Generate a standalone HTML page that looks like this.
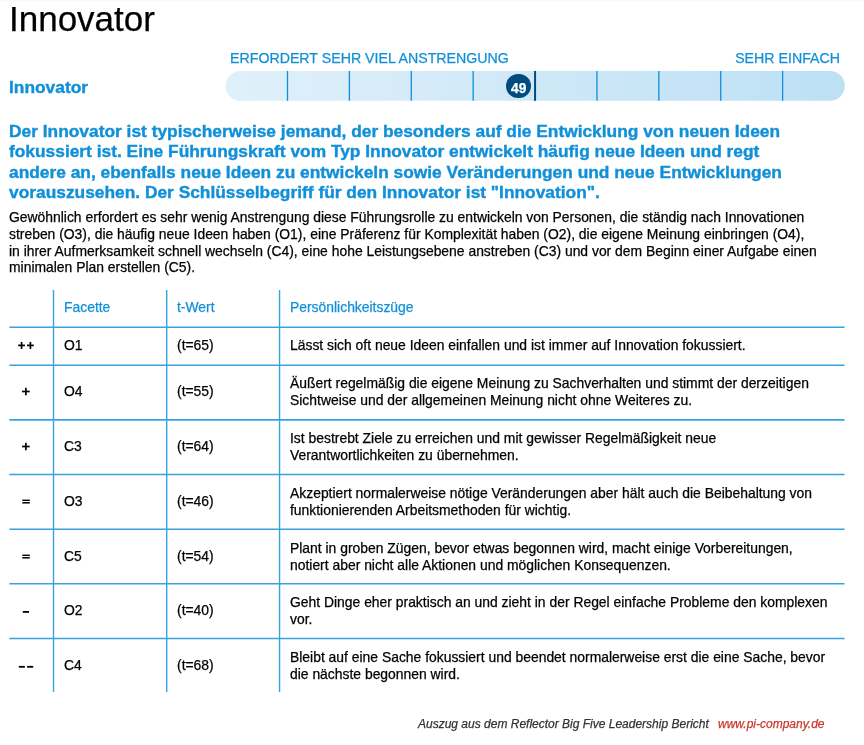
<!DOCTYPE html>
<html><head><meta charset="utf-8">
<style>
html,body{margin:0;padding:0;background:#fff;}
body{width:864px;height:745px;position:relative;overflow:hidden;font-family:"Liberation Sans",sans-serif;color:#000;}
#wrap{will-change:transform;-webkit-text-stroke:0.25px currentColor;position:absolute;left:0;top:0;width:864px;height:745px;}
.topline{position:absolute;left:0;top:0;width:864px;height:1px;background:#f8f8f8;border-bottom:1px solid #fcfcfc;}
.abs{position:absolute;white-space:nowrap;}
#title{left:9px;top:-1.2px;font-size:35px;line-height:40px;}
.scale{color:#1190d8;font-size:14.2px;line-height:16px;top:50px;}
#lbl{-webkit-text-stroke:0.4px currentColor;left:9px;top:76.6px;font-size:17.35px;font-weight:bold;color:#1190d8;line-height:20px;}
#bar{position:absolute;left:226px;top:71px;width:619px;height:30px;border-radius:15px;background:linear-gradient(to right,#e3f1fb,#c0dff5);overflow:hidden;}
.div{position:absolute;top:0;width:1.5px;height:30px;background:#1a90d9;}
#badge{position:absolute;left:506.3px;top:73.6px;width:24.8px;height:24.8px;border-radius:50%;background:#014c7e;color:#fff;font-weight:bold;font-size:13.8px;line-height:29px;text-align:center;}
#intro{-webkit-text-stroke:0.4px currentColor;position:absolute;left:9px;top:121px;width:850px;font-size:17.35px;font-weight:bold;color:#1190d8;line-height:20.3px;}
#body{position:absolute;left:9px;top:209px;width:850px;font-size:13.9px;line-height:16.8px;}
.hl{position:absolute;left:9px;width:836px;height:1.5px;background:#3ba4e2;}
.vl{position:absolute;top:290px;width:1.5px;height:402px;background:#3ba4e2;}
.cell{position:absolute;font-size:13.9px;line-height:16.6px;white-space:nowrap;}
.hd{color:#1190d8;}
.dash{position:absolute;height:2px;background:#111;}
#foot{left:418px;top:717px;font-size:12px;font-style:italic;color:#333;}
#url{left:718px;top:717px;font-size:12px;font-style:italic;color:#c8382c;}
</style></head>
<body><div id="wrap">
<div class="topline"></div>
<div id="title" class="abs">Innovator</div>
<div class="abs scale" style="left:230px;">ERFORDERT SEHR VIEL ANSTRENGUNG</div>
<div class="abs scale" style="right:24px;">SEHR EINFACH</div>
<div id="lbl" class="abs">Innovator</div>
<svg style="position:absolute;left:0;top:0" width="864" height="110">
<defs><linearGradient id="bg" x1="0" x2="1" y1="0" y2="0"><stop offset="0" stop-color="#e0f0fa"/><stop offset="1" stop-color="#bde0f5"/></linearGradient></defs>
<rect x="225.7" y="70.9" width="619.1" height="29.9" rx="14.95" ry="14.95" fill="url(#bg)"/>
<line x1="287.50" y1="70.9" x2="287.50" y2="100.8" stroke="#0e90d8" stroke-width="1.3"/>
<line x1="349.39" y1="70.9" x2="349.39" y2="100.8" stroke="#0e90d8" stroke-width="1.3"/>
<line x1="411.28" y1="70.9" x2="411.28" y2="100.8" stroke="#0e90d8" stroke-width="1.3"/>
<line x1="473.17" y1="70.9" x2="473.17" y2="100.8" stroke="#0e90d8" stroke-width="1.3"/>
<line x1="596.95" y1="70.9" x2="596.95" y2="100.8" stroke="#0e90d8" stroke-width="1.3"/>
<line x1="658.84" y1="70.9" x2="658.84" y2="100.8" stroke="#0e90d8" stroke-width="1.3"/>
<line x1="720.73" y1="70.9" x2="720.73" y2="100.8" stroke="#0e90d8" stroke-width="1.3"/>
<line x1="782.62" y1="70.9" x2="782.62" y2="100.8" stroke="#0e90d8" stroke-width="1.3"/>
<line x1="535.06" y1="70.9" x2="535.06" y2="100.8" stroke="#014c7e" stroke-width="2"/>
</svg>
<div id="badge">49</div>
<div id="intro">Der Innovator ist typischerweise jemand, der besonders auf die Entwicklung von neuen Ideen<br>fokussiert ist. Eine Führungskraft vom Typ Innovator entwickelt häufig neue Ideen und regt<br>andere an, ebenfalls neue Ideen zu entwickeln sowie Veränderungen und neue Entwicklungen<br>vorauszusehen. Der Schlüsselbegriff für den Innovator ist "Innovation".</div>
<div id="body">Gewöhnlich erfordert es sehr wenig Anstrengung diese Führungsrolle zu entwickeln von Personen, die ständig nach Innovationen<br>streben (O3), die häufig neue Ideen haben (O1), eine Präferenz für Komplexität haben (O2), die eigene Meinung einbringen (O4),<br>in ihrer Aufmerksamkeit schnell wechseln (C4), eine hohe Leistungsebene anstreben (C3) und vor dem Beginn einer Aufgabe einen<br>minimalen Plan erstellen (C5).</div>

<!-- table lines -->
<svg style="position:absolute;left:0;top:0" width="864" height="745">
<line x1="9.4" y1="327.2" x2="844.5" y2="327.2" stroke="#36a3e0" stroke-width="1.6"/>
<line x1="9.4" y1="365.3" x2="844.5" y2="365.3" stroke="#36a3e0" stroke-width="1.6"/>
<line x1="9.4" y1="419.9" x2="844.5" y2="419.9" stroke="#36a3e0" stroke-width="1.6"/>
<line x1="9.4" y1="474.5" x2="844.5" y2="474.5" stroke="#36a3e0" stroke-width="1.6"/>
<line x1="9.4" y1="529.2" x2="844.5" y2="529.2" stroke="#36a3e0" stroke-width="1.6"/>
<line x1="9.4" y1="583.8" x2="844.5" y2="583.8" stroke="#36a3e0" stroke-width="1.6"/>
<line x1="9.4" y1="638.5" x2="844.5" y2="638.5" stroke="#36a3e0" stroke-width="1.6"/>
<line x1="53.5" y1="290" x2="53.5" y2="692" stroke="#36a3e0" stroke-width="1.4"/>
<line x1="166.7" y1="290" x2="166.7" y2="692" stroke="#36a3e0" stroke-width="1.4"/>
<line x1="279.55" y1="290" x2="279.55" y2="692" stroke="#36a3e0" stroke-width="1.4"/>
</svg>

<div class="cell hd" style="left:64px;top:299px">Facette</div>
<div class="cell hd" style="left:177px;top:299px">t-Wert</div>
<div class="cell hd" style="left:290px;top:299px">Persönlichkeitszüge</div>

<div class="cell" style="left:64px;top:337px">O1</div>
<div class="cell" style="left:177px;top:337px">(t=65)</div>
<div class="cell" style="left:290px;top:337px">Lässt sich oft neue Ideen einfallen und ist immer auf Innovation fokussiert.</div>

<div class="cell" style="left:64px;top:383px">O4</div>
<div class="cell" style="left:177px;top:383px">(t=55)</div>
<div class="cell" style="left:290px;top:375px">Äußert regelmäßig die eigene Meinung zu Sachverhalten und stimmt der derzeitigen<br>Sichtweise und der allgemeinen Meinung nicht ohne Weiteres zu.</div>

<div class="cell" style="left:64px;top:438px">C3</div>
<div class="cell" style="left:177px;top:438px">(t=64)</div>
<div class="cell" style="left:290px;top:430px">Ist bestrebt Ziele zu erreichen und mit gewisser Regelmäßigkeit neue<br>Verantwortlichkeiten zu übernehmen.</div>

<div class="cell" style="left:64px;top:493px">O3</div>
<div class="cell" style="left:177px;top:493px">(t=46)</div>
<div class="cell" style="left:290px;top:485px">Akzeptiert normalerweise nötige Veränderungen aber hält auch die Beibehaltung von<br>funktionierenden Arbeitsmethoden für wichtig.</div>

<div class="cell" style="left:64px;top:548px">C5</div>
<div class="cell" style="left:177px;top:548px">(t=54)</div>
<div class="cell" style="left:290px;top:540px">Plant in groben Zügen, bevor etwas begonnen wird, macht einige Vorbereitungen,<br>notiert aber nicht alle Aktionen und möglichen Konsequenzen.</div>

<div class="cell" style="left:64px;top:602px">O2</div>
<div class="cell" style="left:177px;top:602px">(t=40)</div>
<div class="cell" style="left:290px;top:594px">Geht Dinge eher praktisch an und zieht in der Regel einfache Probleme den komplexen<br>vor.</div>

<div class="cell" style="left:64px;top:657px">C4</div>
<div class="cell" style="left:177px;top:657px">(t=68)</div>
<div class="cell" style="left:290px;top:649px">Bleibt auf eine Sache fokussiert und beendet normalerweise erst die eine Sache, bevor<br>die nächste begonnen wird.</div>

<svg style="position:absolute;left:0;top:0" width="60" height="745"><g stroke="#000" stroke-width="1.7" stroke-linecap="butt">
<line x1="18.15" y1="345.4" x2="24.95" y2="345.4"/><line x1="21.55" y1="341.90" x2="21.55" y2="348.90"/>
<line x1="27.00" y1="345.4" x2="33.80" y2="345.4"/><line x1="30.4" y1="341.90" x2="30.4" y2="348.90"/>
<line x1="22.10" y1="391.5" x2="29.70" y2="391.5"/><line x1="25.9" y1="387.80" x2="25.9" y2="395.20"/>
<line x1="22.10" y1="446.5" x2="29.70" y2="446.5"/><line x1="25.9" y1="442.80" x2="25.9" y2="450.20"/>
<line x1="22.3" y1="500.3" x2="29.8" y2="500.3" stroke-width="1.4"/><line x1="22.3" y1="502.8" x2="29.8" y2="502.8" stroke-width="1.5"/>
<line x1="22.3" y1="555.3" x2="29.8" y2="555.3" stroke-width="1.4"/><line x1="22.3" y1="557.8" x2="29.8" y2="557.8" stroke-width="1.5"/>
<line x1="22.8" y1="611.9" x2="29" y2="611.9" stroke-width="1.8"/>
<line x1="18.8" y1="666.8" x2="24.85" y2="666.8" stroke-width="1.8"/><line x1="27.1" y1="666.8" x2="33.2" y2="666.8" stroke-width="1.8"/>
</g></svg>
<div id="foot" class="abs">Auszug aus dem Reflector Big Five Leadership Bericht</div>
<div id="url" class="abs">www.pi-company.de</div>
</div></body></html>
